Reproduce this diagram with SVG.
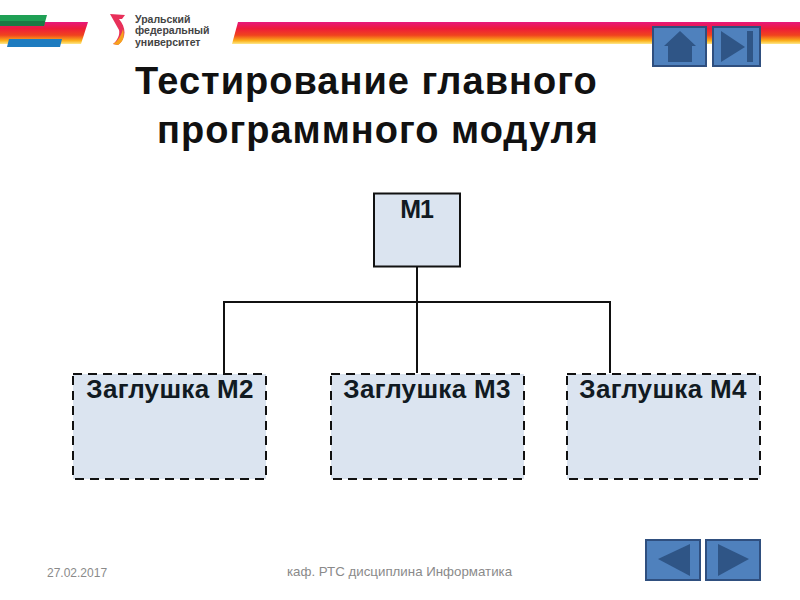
<svg xmlns="http://www.w3.org/2000/svg" width="800" height="600" viewBox="0 0 800 600">
<style>
text{font-family:"Liberation Sans",Arial,sans-serif}
.title{font-size:38px;font-weight:bold;fill:#111;letter-spacing:1px}
.lbl{font-size:26px;font-weight:bold;fill:#111a22;text-anchor:middle;letter-spacing:.3px}
.box{fill:#dbe4f0;stroke:#111;stroke-width:2}
.dash{stroke-dasharray:9 6}
.btn{fill:#4f81bd;stroke:#2f4f7f;stroke-width:2}
.ico{fill:#2f5586}
.conn{fill:none;stroke:#111;stroke-width:2}
.foot{fill:#8a8a8a}
.logo{font-size:10.5px;font-weight:bold;fill:#444}
</style>
<defs>
<linearGradient id="band" x1="0" y1="0" x2="0" y2="1">
<stop offset="0" stop-color="#e6187c"/><stop offset="0.3" stop-color="#ee1c3a"/><stop offset="0.6" stop-color="#f0441e"/><stop offset="0.85" stop-color="#fbb01a"/><stop offset="1" stop-color="#fde88a"/>
</linearGradient>
</defs>
<g id="header">
<polygon points="0,22 88,22 81,44 0,44" fill="url(#band)"/>
<polygon points="238,22 800,22 800,44 232,44" fill="url(#band)"/>
<polygon points="0,15 47,15 44,26 0,26" fill="#1fa055"/>
<polygon points="0,21 45,21 44,26 0,26" fill="#1c7a44"/>
<polygon points="9,39 62,39 60,47 7,47" fill="#1e7cc0"/>
<path d="M110,14 L125,15 L122,19 L119,19 C126,27 127,38 118,45 L113,44 C118,40 120,34 119,30 Z" fill="#e8305a"/>
<path d="M123,29 C125,37 123,42 118,45 L113,44 C118,41 121,36 123,29 Z" fill="#f6a21e"/>
<text class="logo" x="135" y="23">Уральский</text>
<text class="logo" x="135" y="34">федеральный</text>
<text class="logo" x="135" y="46">университет</text>
</g>
<g id="title">
<text class="title" x="135" y="93.500">Тестирование главного</text>
<text class="title" x="157" y="143">программного модуля</text>
</g>
<g id="connectors">
<path class="conn" d="M417,267V373M224,373V302H610V373"/>
</g>
<g id="m1">
<rect class="box" x="374" y="193.500" width="86" height="73"/>
<text class="lbl" x="416.500" y="218" style="font-size:25px;letter-spacing:-1px">М1</text>
</g>
<g id="m2">
<rect class="box dash" x="73" y="374" width="193" height="105"/>
<text class="lbl" x="170" y="398">Заглушка М2</text>
</g>
<g id="m3">
<rect class="box dash" x="331" y="374" width="193" height="105"/>
<text class="lbl" x="427" y="398">Заглушка М3</text>
</g>
<g id="m4">
<rect class="box dash" x="567" y="374" width="193" height="105"/>
<text class="lbl" x="663" y="398">Заглушка М4</text>
</g>
<g id="btn-home">
<rect class="btn" x="653" y="27" width="53" height="39"/>
<path class="ico" d="M664,46 L680,31 L696,46 L692,46 L692,62 L668,62 L668,46 Z"/>
</g>
<g id="btn-end">
<rect class="btn" x="713" y="27" width="47" height="39"/>
<path class="ico" d="M721,31 L745,47 L721,62 Z M747,31 H753 V62 H747 Z"/>
</g>
<g id="btn-prev">
<rect class="btn" x="646" y="540" width="54" height="40"/>
<path class="ico" d="M658,559 L690,544 L690,576 Z"/>
</g>
<g id="btn-next">
<rect class="btn" x="706" y="540" width="54" height="40"/>
<path class="ico" d="M718,544 L749,559 L718,576 Z"/>
</g>
<g id="footer">
<text class="foot" x="47" y="577" font-size="12">27.02.2017</text>
<text class="foot" x="287" y="576" font-size="13.300">каф. РТС дисциплина Информатика</text>
</g>
</svg>
